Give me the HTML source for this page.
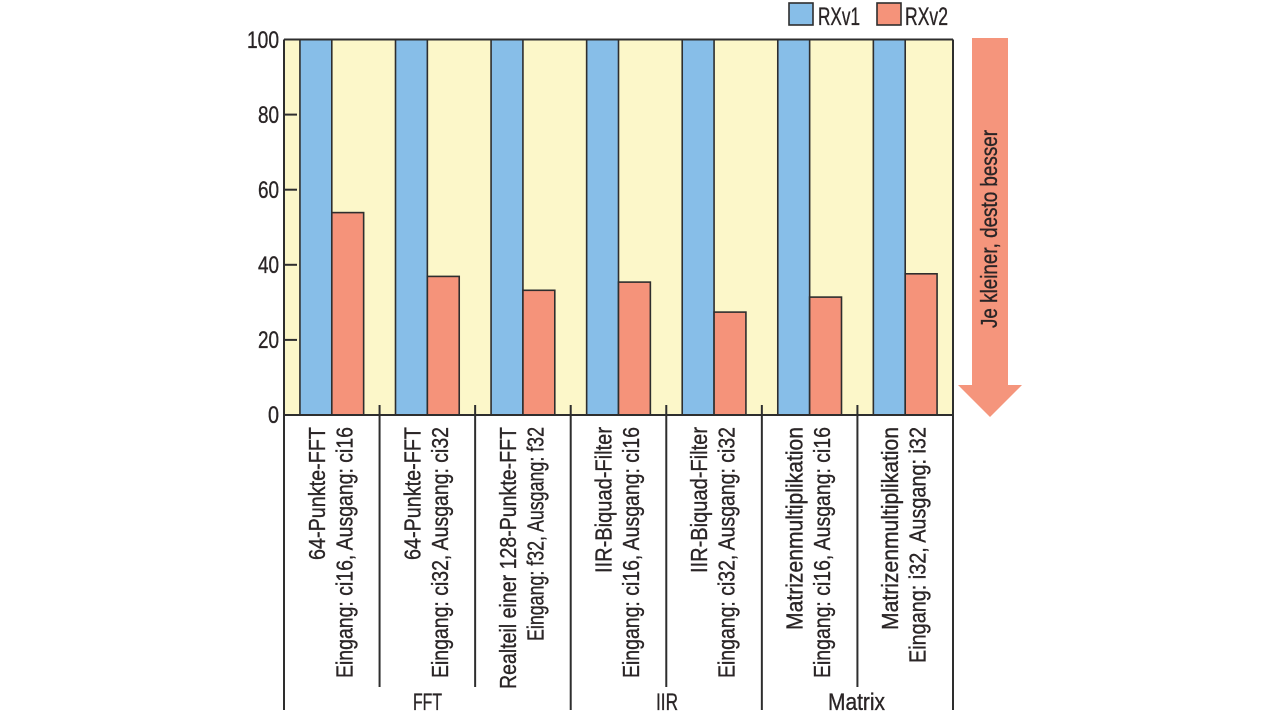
<!DOCTYPE html>
<html><head><meta charset="utf-8"><style>
html,body{margin:0;padding:0;background:#fff;}
svg{display:block;}
text{font-family:"Liberation Sans",sans-serif;fill:#2a2526;stroke:#2a2526;stroke-width:0.35;}
</style></head><body>
<svg width="1280" height="719" viewBox="0 0 1280 719" xmlns="http://www.w3.org/2000/svg">
<rect x="0" y="0" width="1280" height="719" fill="#fff"/>
<!-- plot background -->
<rect x="284" y="39.5" width="669" height="375.5" fill="#FCF7C9"/>
<!-- bars -->
<g stroke="#2e2e2e" stroke-width="1.6">
<rect x="299.93" y="39.5" width="31.86" height="375.5" fill="#87BEE8"/>
<rect x="395.50" y="39.5" width="31.86" height="375.5" fill="#87BEE8"/>
<rect x="491.07" y="39.5" width="31.86" height="375.5" fill="#87BEE8"/>
<rect x="586.64" y="39.5" width="31.86" height="375.5" fill="#87BEE8"/>
<rect x="682.21" y="39.5" width="31.86" height="375.5" fill="#87BEE8"/>
<rect x="777.78" y="39.5" width="31.86" height="375.5" fill="#87BEE8"/>
<rect x="873.35" y="39.5" width="31.86" height="375.5" fill="#87BEE8"/>
<rect x="331.79" y="212.6" width="31.86" height="202.4" fill="#F5937A"/>
<rect x="427.36" y="276.4" width="31.86" height="138.6" fill="#F5937A"/>
<rect x="522.93" y="290.3" width="31.86" height="124.7" fill="#F5937A"/>
<rect x="618.50" y="282.1" width="31.86" height="132.9" fill="#F5937A"/>
<rect x="714.07" y="312.1" width="31.86" height="102.9" fill="#F5937A"/>
<rect x="809.64" y="297.1" width="31.86" height="117.9" fill="#F5937A"/>
<rect x="905.21" y="273.8" width="31.86" height="141.2" fill="#F5937A"/>
</g>
<!-- frame & lines -->
<g stroke="#2e2e2e" stroke-width="2" fill="none">
<line x1="284" y1="39.5" x2="953" y2="39.5"/>
<line x1="284" y1="415" x2="953" y2="415"/>
<line x1="284" y1="39.5" x2="284" y2="710"/>
<line x1="953" y1="39.5" x2="953" y2="710"/>
<line x1="379.57" y1="405" x2="379.57" y2="687"/>
<line x1="475.14" y1="405" x2="475.14" y2="687"/>
<line x1="570.71" y1="405" x2="570.71" y2="710"/>
<line x1="666.28" y1="405" x2="666.28" y2="687"/>
<line x1="761.85" y1="405" x2="761.85" y2="710"/>
<line x1="857.42" y1="405" x2="857.42" y2="687"/>
<line x1="284" y1="114.6" x2="297" y2="114.6"/>
<line x1="284" y1="189.7" x2="297" y2="189.7"/>
<line x1="284" y1="264.8" x2="297" y2="264.8"/>
<line x1="284" y1="339.9" x2="297" y2="339.9"/>
</g>
<!-- y tick labels -->
<g font-size="24">
<text x="247" y="48" textLength="32" lengthAdjust="spacingAndGlyphs">100</text>
<text x="258" y="123" textLength="21" lengthAdjust="spacingAndGlyphs">80</text>
<text x="258" y="198" textLength="21" lengthAdjust="spacingAndGlyphs">60</text>
<text x="258" y="273" textLength="21" lengthAdjust="spacingAndGlyphs">40</text>
<text x="258" y="348" textLength="21" lengthAdjust="spacingAndGlyphs">20</text>
<text x="268" y="423" textLength="11" lengthAdjust="spacingAndGlyphs">0</text>
</g>
<!-- legend -->
<rect x="789" y="3" width="24" height="22" fill="#87BEE8" stroke="#2e2e2e" stroke-width="1.6"/>
<text x="818" y="25" font-size="25" textLength="42" lengthAdjust="spacingAndGlyphs">RXv1</text>
<rect x="877" y="3" width="24" height="22" fill="#F5937A" stroke="#2e2e2e" stroke-width="1.6"/>
<text x="905" y="25" font-size="25" textLength="43" lengthAdjust="spacingAndGlyphs">RXv2</text>
<!-- arrow -->
<polygon points="972,38 1008,38 1008,385 1022,385 990,417 958,385 972,385" fill="#F5957C"/>
<text transform="translate(997,328) rotate(-90)" font-size="23" textLength="198" lengthAdjust="spacingAndGlyphs">Je kleiner, desto besser</text>
<!-- category labels -->
<g font-size="23">
<text transform="translate(324.8,560) rotate(-90)" textLength="133" lengthAdjust="spacingAndGlyphs">64-Punkte-FFT</text>
<text transform="translate(352.3,678) rotate(-90)" textLength="251" lengthAdjust="spacingAndGlyphs">Eingang: ci16, Ausgang: ci16</text>
<text transform="translate(420.4,560) rotate(-90)" textLength="133" lengthAdjust="spacingAndGlyphs">64-Punkte-FFT</text>
<text transform="translate(447.9,678) rotate(-90)" textLength="251" lengthAdjust="spacingAndGlyphs">Eingang: ci32, Ausgang: ci32</text>
<text transform="translate(515.9,689) rotate(-90)" textLength="262" lengthAdjust="spacingAndGlyphs">Realteil einer 128-Punkte-FFT</text>
<text transform="translate(543.4,641) rotate(-90)" textLength="214" lengthAdjust="spacingAndGlyphs">Eingang: f32, Ausgang: f32</text>
<text transform="translate(611.5,573) rotate(-90)" textLength="146" lengthAdjust="spacingAndGlyphs">IIR-Biquad-Filter</text>
<text transform="translate(639.0,678) rotate(-90)" textLength="251" lengthAdjust="spacingAndGlyphs">Eingang: ci16, Ausgang: ci16</text>
<text transform="translate(707.1,573) rotate(-90)" textLength="146" lengthAdjust="spacingAndGlyphs">IIR-Biquad-Filter</text>
<text transform="translate(734.6,678) rotate(-90)" textLength="251" lengthAdjust="spacingAndGlyphs">Eingang: ci32, Ausgang: ci32</text>
<text transform="translate(802.6,630) rotate(-90)" textLength="203" lengthAdjust="spacingAndGlyphs">Matrizenmultiplikation</text>
<text transform="translate(830.1,678) rotate(-90)" textLength="251" lengthAdjust="spacingAndGlyphs">Eingang: ci16, Ausgang: ci16</text>
<text transform="translate(898.2,630) rotate(-90)" textLength="203" lengthAdjust="spacingAndGlyphs">Matrizenmultiplikation</text>
<text transform="translate(925.7,663) rotate(-90)" textLength="236" lengthAdjust="spacingAndGlyphs">Eingang: i32, Ausgang: i32</text>
</g>
<!-- group labels -->
<g font-size="24">
<text x="413" y="710" textLength="29" lengthAdjust="spacingAndGlyphs">FFT</text>
<text x="656" y="710" textLength="22" lengthAdjust="spacingAndGlyphs">IIR</text>
<text x="828" y="710" textLength="57" lengthAdjust="spacingAndGlyphs">Matrix</text>
</g>
</svg>
</body></html>
